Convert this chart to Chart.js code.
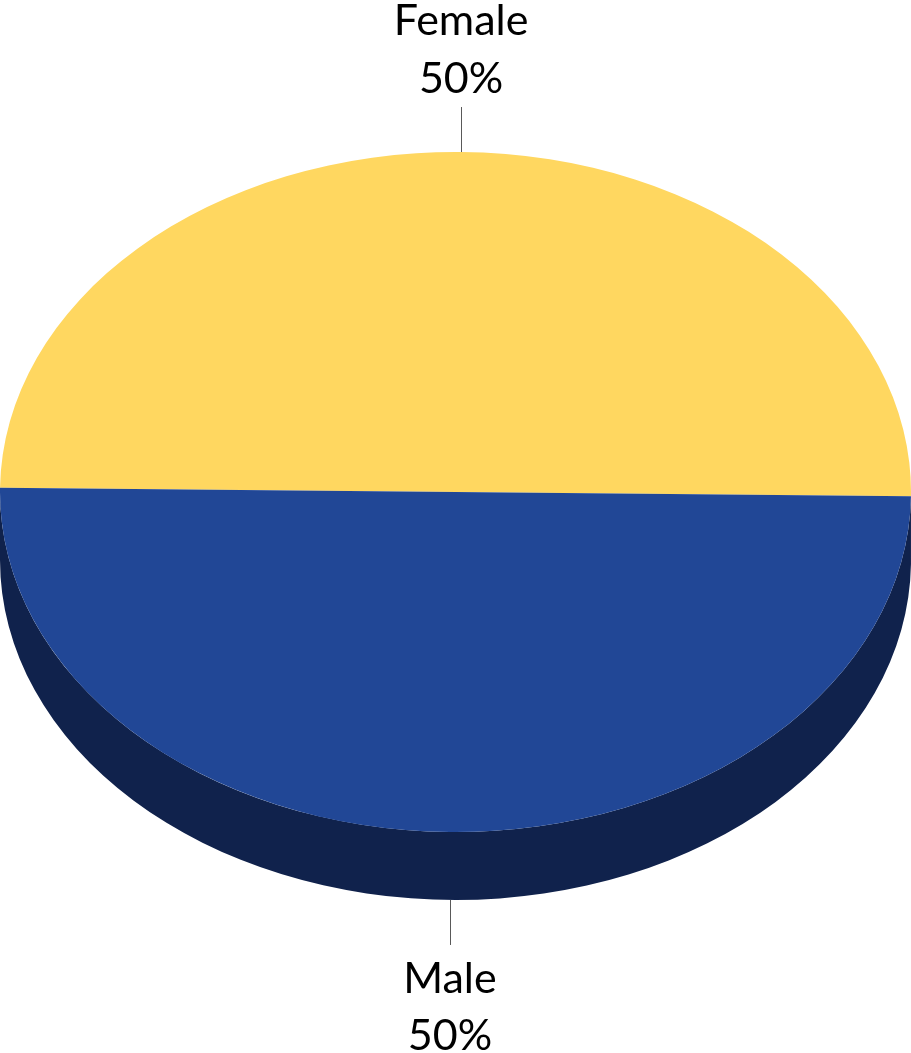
<!DOCTYPE html>
<html>
<head>
<meta charset="utf-8">
<script src="https://cdn.jsdelivr.net/npm/chart.js@4"></script>
<style>
  body { margin: 0; background: #fff; }
  #wrap { width: 911px; height: 1053px; position: relative; }
</style>
</head>
<body>
<div id="wrap"><canvas id="genderChart"></canvas></div>
<script>
// Data
const labels = ["Female", "Male"];
const values = [50, 50];
const colors = ["#FFD760", "#214796"];
const sideColors = ["#C9A43C", "#10224C"];

// 3D look: squash the pie vertically and add a side wall
const TILT = 340 / 455.5;
const CENTER_Y = 492;
const DEPTH = 68;

const pie3d = {
  id: "pie3d",
  beforeDatasetsDraw(chart) {
    const ctx = chart.ctx;
    const arcs = chart.getDatasetMeta(0).data;
    const cx = arcs[0].x, cy = arcs[0].y, r = arcs[0].outerRadius;
    ctx.save();
    ctx.translate(cx, CENTER_Y);
    ctx.scale(1, TILT);
    ctx.translate(-cx, -cy);
    const d = DEPTH / TILT;
    arcs.forEach((arc, i) => {
      // only the front half (0..PI) of the wall is visible
      let a0 = arc.startAngle, a1 = arc.endAngle;
      for (let k = -1; k <= 1; k++) {
        const s = Math.max(a0, k * 2 * Math.PI);
        const e = Math.min(a1, k * 2 * Math.PI + Math.PI);
        if (e <= s) continue;
        ctx.beginPath();
        ctx.arc(cx, cy, r, s, e);
        ctx.lineTo(cx + r * Math.cos(e), cy + d + r * Math.sin(e));
        ctx.arc(cx, cy + d, r, e, s, true);
        ctx.closePath();
        ctx.fillStyle = sideColors[i];
        ctx.fill();
      }
    });
  },
  afterDatasetsDraw(chart) {
    chart.ctx.restore();
  },
  afterDraw(chart) {
    const ctx = chart.ctx;
    const arcs = chart.getDatasetMeta(0).data;
    const total = values.reduce((a, b) => a + b, 0);
    ctx.save();
    ctx.font = "43px Lato";
    ctx.fillStyle = "#000";
    ctx.textAlign = "center";
    ctx.textBaseline = "alphabetic";
    arcs.forEach((arc, i) => {
      const mid = (arc.startAngle + arc.endAngle) / 2;
      const x = arc.x + arc.outerRadius * Math.cos(mid);
      let y = CENTER_Y + TILT * arc.outerRadius * Math.sin(mid);
      const down = Math.sin(mid) > 0;
      if (down) y += DEPTH;
      const y2 = down ? y + 45 : y - 45;
      ctx.strokeStyle = "#595959";
      ctx.lineWidth = 1;
      ctx.beginPath();
      ctx.moveTo(Math.round(x) + 0.5, y);
      ctx.lineTo(Math.round(x) + 0.5, y2);
      ctx.stroke();
      const pct = Math.round(values[i] / total * 100) + "%";
      if (down) {
        ctx.fillText(labels[i], x, y2 + 48);
        ctx.fillText(pct, x, y2 + 105);
      } else {
        ctx.fillText(labels[i], x, y2 - 72);
        ctx.fillText(pct, x, y2 - 14);
      }
    });
    ctx.restore();
  }
};

new Chart(document.getElementById("genderChart"), {
  type: "pie",
  data: {
    labels: labels,
    datasets: [{
      data: values,
      backgroundColor: colors,
      borderWidth: 0
    }]
  },
  options: {
    responsive: true,
    maintainAspectRatio: false,
    animation: false,
    rotation: -89.3,
    layout: { padding: 0 },
    events: [],
    plugins: {
      legend: { display: false },
      tooltip: { enabled: false }
    }
  },
  plugins: [pie3d]
});
</script>
</body>
</html>
